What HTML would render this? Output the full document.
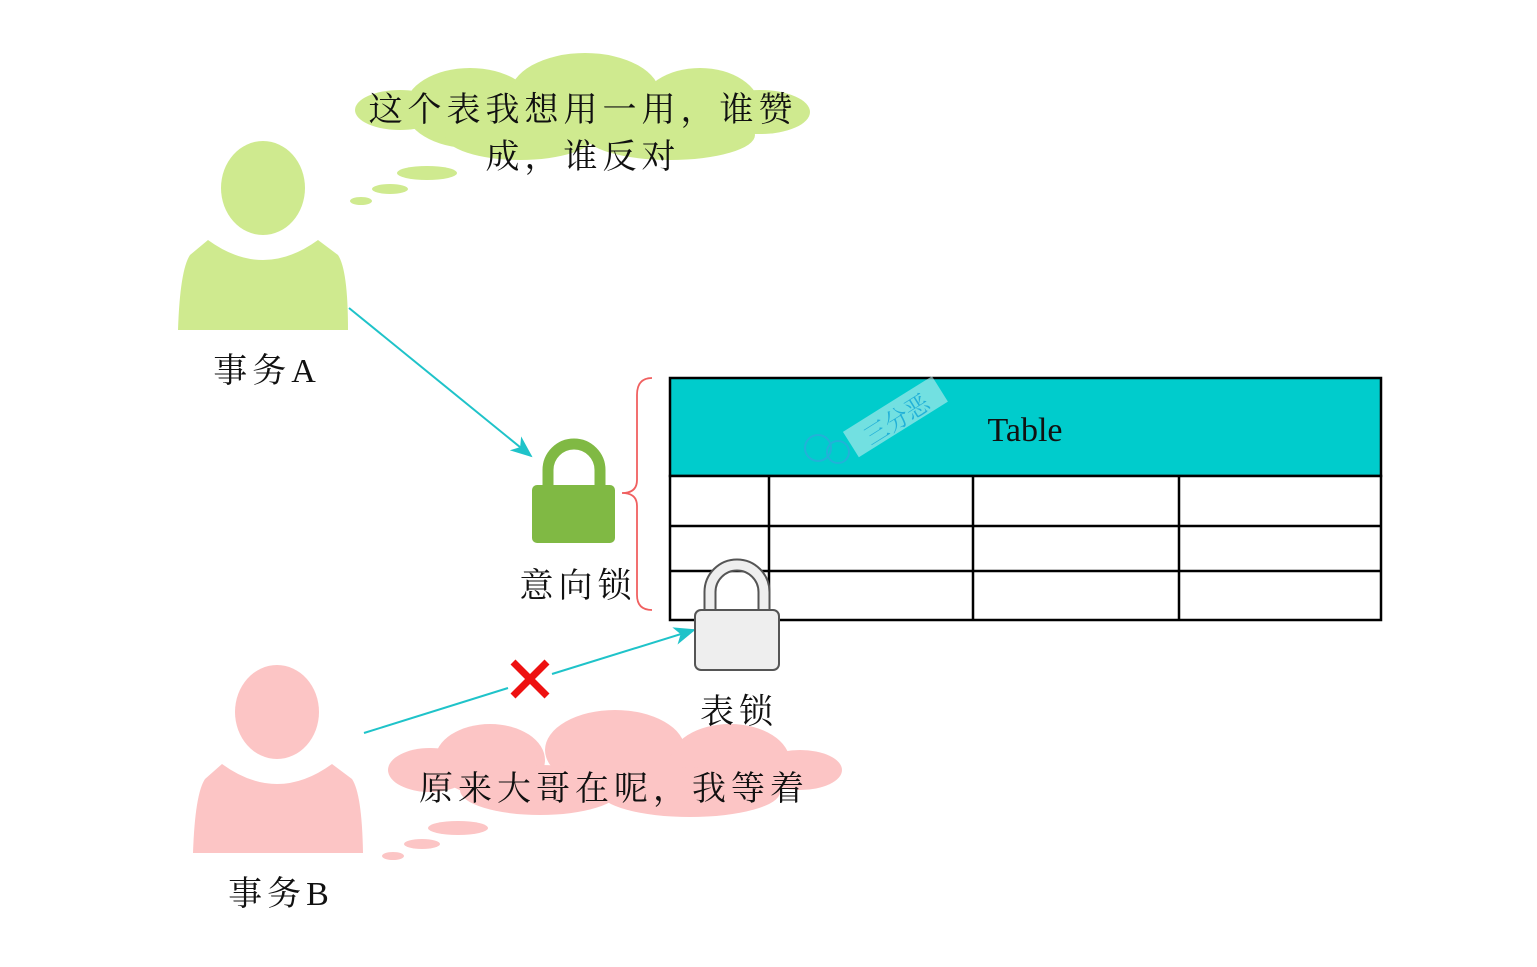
<!DOCTYPE html>
<html><head><meta charset="utf-8"><style>
html,body{margin:0;padding:0;background:#fff;}
svg{display:block}
text{font-family:"Liberation Serif","Noto Serif CJK SC",serif;fill:#111;}
.cj{letter-spacing:5px}
</style></head><body>
<svg width="1537" height="967" viewBox="0 0 1537 967" xmlns="http://www.w3.org/2000/svg">
<defs>
<marker id="ar" markerWidth="22" markerHeight="18" refX="20" refY="9" orient="auto" markerUnits="userSpaceOnUse">
<path d="M0,0 L22,9 L0,18 L6,9 Z" fill="#1fc3c9"/></marker>
</defs>
<g fill="#cfea8f">
<ellipse cx="470" cy="108" rx="65" ry="40"/>
<ellipse cx="585" cy="95" rx="75" ry="42"/>
<ellipse cx="700" cy="108" rx="60" ry="40"/>
<ellipse cx="760" cy="112" rx="50" ry="22"/>
<ellipse cx="400" cy="110" rx="45" ry="20"/>
<ellipse cx="520" cy="135" rx="75" ry="25"/>
<ellipse cx="670" cy="135" rx="85" ry="25"/>
<ellipse cx="427" cy="173" rx="30" ry="7"/>
<ellipse cx="390" cy="189" rx="18" ry="5"/>
<ellipse cx="361" cy="201" rx="11" ry="4"/>
</g>
<text class="cj" x="583" y="121" font-size="34" text-anchor="middle">这个表我想用一用，谁赞</text>
<text class="cj" x="583" y="168" font-size="34" text-anchor="middle">成，谁反对</text>
<g fill="#cfea8f">
<ellipse cx="263" cy="188" rx="42" ry="47"/>
<path d="M208,240 Q263,280 318,240 L338,255 Q348,270 348,330 L178,330 Q180,270 190,255 Z"/>
</g>
<text class="cj" x="267" y="382" font-size="34" text-anchor="middle">事务A</text>
<g fill="#fcc5c5">
<ellipse cx="277" cy="712" rx="42" ry="47"/>
<path d="M222,764 Q277,804 332,764 L352,779 Q362,794 363,853 L193,853 Q195,794 205,779 Z"/>
</g>
<text class="cj" x="281" y="905" font-size="34" text-anchor="middle">事务B</text>
<g fill="#fcc5c5">
<ellipse cx="490" cy="760" rx="55" ry="36"/>
<ellipse cx="615" cy="750" rx="70" ry="40"/>
<ellipse cx="730" cy="762" rx="60" ry="38"/>
<ellipse cx="800" cy="770" rx="42" ry="20"/>
<ellipse cx="430" cy="770" rx="42" ry="22"/>
<ellipse cx="540" cy="790" rx="80" ry="25"/>
<ellipse cx="690" cy="792" rx="90" ry="25"/>
<ellipse cx="458" cy="828" rx="30" ry="7"/>
<ellipse cx="422" cy="844" rx="18" ry="5"/>
<ellipse cx="393" cy="856" rx="11" ry="4"/>
</g>
<text class="cj" x="614" y="800" font-size="34" text-anchor="middle">原来大哥在呢，我等着</text>
<rect x="670" y="378" width="711" height="98" fill="#00cccc" stroke="#000" stroke-width="2.5"/>
<rect x="670" y="476" width="711" height="144" fill="#fff" stroke="#000" stroke-width="2.5"/>
<g stroke="#000" stroke-width="2.5">
<line x1="670" y1="526" x2="1381" y2="526"/>
<line x1="670" y1="571" x2="1381" y2="571"/>
<line x1="769" y1="476" x2="769" y2="620"/>
<line x1="973" y1="476" x2="973" y2="620"/>
<line x1="1179" y1="476" x2="1179" y2="620"/>
</g>
<text x="1025" y="441" font-size="34" text-anchor="middle">Table</text>
<g opacity="0.6">
<rect x="843" y="402" width="105" height="30" fill="#bfeef0" transform="rotate(-32 895 417)"/>
<text x="897" y="428" font-size="24" style="fill:#3aa0e0" text-anchor="middle" transform="rotate(-32 897 420)">三分恶</text>
<circle cx="818" cy="448" r="13" fill="none" stroke="#3aa0e0" stroke-width="2"/>
<circle cx="838" cy="452" r="11" fill="none" stroke="#3aa0e0" stroke-width="2"/>
</g>
<path d="M652,378 Q637,378 637,395 L637,480 Q637,493 622,493 Q637,493 637,506 L637,595 Q637,610 652,610" fill="none" stroke="#f06060" stroke-width="1.8"/>
<path d="M548,487 L548,470 A26,26 0 0 1 600,470 L600,487" fill="none" stroke="#80b944" stroke-width="11"/>
<rect x="532" y="485" width="83" height="58" rx="5" fill="#80b944"/>
<text class="cj" x="578" y="597" font-size="34" text-anchor="middle">意向锁</text>
<line x1="349" y1="308" x2="531" y2="456" stroke="#1fc3c9" stroke-width="2" marker-end="url(#ar)"/>
<line x1="364" y1="733" x2="508" y2="688" stroke="#1fc3c9" stroke-width="2"/>
<line x1="552" y1="674" x2="694" y2="630" stroke="#1fc3c9" stroke-width="2" marker-end="url(#ar)"/>
<path d="M710,612 L710,592 A27,27 0 0 1 764,592 L764,612" fill="none" stroke="#555" stroke-width="13"/>
<path d="M710,612 L710,592 A27,27 0 0 1 764,592 L764,612" fill="none" stroke="#eee" stroke-width="9"/>
<rect x="695" y="610" width="84" height="60" rx="6" fill="#eee" stroke="#555" stroke-width="2"/>
<text class="cj" x="739" y="723" font-size="34" text-anchor="middle">表锁</text>
<g stroke="#ee1111" stroke-width="7">
<line x1="513" y1="662" x2="547" y2="696"/>
<line x1="547" y1="662" x2="513" y2="696"/>
</g>
</svg>
</body></html>
